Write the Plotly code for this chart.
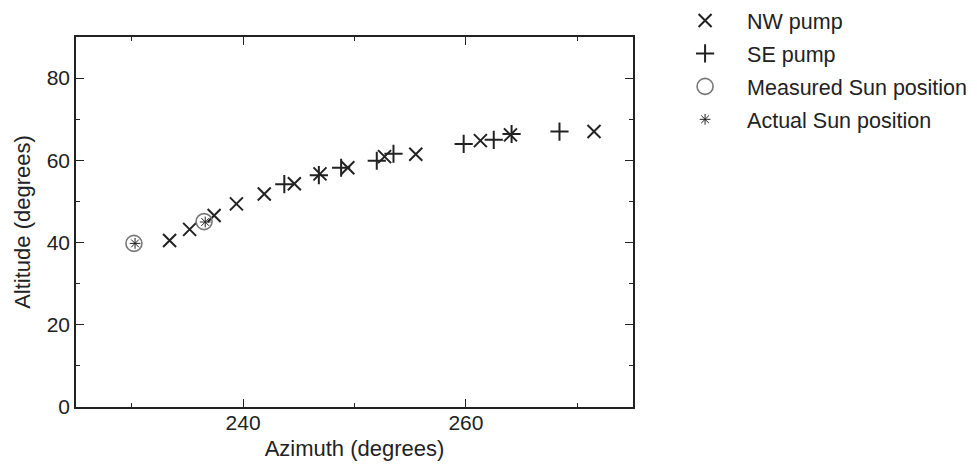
import plotly.graph_objects as go

# NW pump readings (azimuth, altitude in degrees)
nw_az = [233.4, 235.2, 237.4, 239.4, 241.9, 244.6, 246.9, 249.4, 252.7, 255.5, 261.3, 264.0, 271.5]
nw_alt = [40.5, 43.2, 46.6, 49.4, 51.8, 54.3, 56.7, 58.2, 60.9, 61.5, 64.8, 66.2, 67.0]

# SE pump readings
se_az = [243.7, 246.8, 248.8, 252.0, 253.5, 259.8, 262.5, 264.1, 268.4]
se_alt = [54.2, 56.4, 58.2, 59.9, 61.6, 64.0, 65.0, 66.4, 67.0]

# measured vs actual Sun position
meas_az = [230.2, 236.5]
meas_alt = [39.8, 45.1]
act_az = [230.3, 236.6]
act_alt = [39.8, 45.0]

FONT = "Liberation Sans, Arial, Helvetica, sans-serif"
INK = "#222222"

fig = go.Figure()
fig.add_trace(go.Scatter(
    x=nw_az, y=nw_alt, mode="markers", name="NW pump", legendgroup="nw",
    marker=dict(symbol="x-thin-open", size=13, line=dict(color=INK, width=2), color=INK)))
fig.add_trace(go.Scatter(
    x=se_az, y=se_alt, mode="markers", name="SE pump", legendgroup="se",
    marker=dict(symbol="cross-thin-open", size=13, line=dict(color=INK, width=2), color=INK)))
fig.add_trace(go.Scatter(
    x=meas_az, y=meas_alt, mode="markers", name="Measured Sun position", legendgroup="meas",
    marker=dict(symbol="circle-open", size=16, line=dict(color="#777777", width=1.6),
                color="#777777")))
fig.add_trace(go.Scatter(
    x=act_az, y=act_alt, mode="markers", name="Actual Sun position", legendgroup="act",
    marker=dict(symbol="asterisk-open", size=9, line=dict(color=INK, width=1), color=INK)))

axis_common = dict(
    showline=True, linecolor=INK, linewidth=1.5, mirror="ticks",
    ticks="inside", ticklen=8, tickwidth=1.3, tickcolor=INK,
    showgrid=False, zeroline=False,
    tickfont=dict(family=FONT, size=21, color=INK),
)

fig.update_xaxes(
    range=[225, 275], tick0=240, dtick=20, ticklabelstandoff=-4,
    minor=dict(dtick=10, tick0=230, ticks="inside", ticklen=4, tickwidth=1.3, tickcolor=INK),
    title=dict(text="Azimuth (degrees)", font=dict(family=FONT, size=22, color=INK), standoff=8),
    **axis_common)
fig.update_yaxes(
    range=[0, 90], tick0=0, dtick=20,
    minor=dict(dtick=10, tick0=0, ticks="inside", ticklen=4, tickwidth=1.3, tickcolor=INK),
    title=dict(text="Altitude (degrees)", font=dict(family=FONT, size=22, color=INK), standoff=10),
    **axis_common)

fig.update_layout(
    width=977, height=471,
    margin=dict(l=68, r=352, t=29, b=72, autoexpand=False),
    paper_bgcolor="white", plot_bgcolor="white",
    font=dict(family=FONT, size=21, color=INK),
    showlegend=True,
    legend=dict(x=1.054, y=1.10, xanchor="left", yanchor="top",
                font=dict(family=FONT, size=21.5, color=INK),
                bgcolor="rgba(0,0,0,0)", tracegroupgap=2, itemwidth=74),
)

fig.write_html("out.html")
